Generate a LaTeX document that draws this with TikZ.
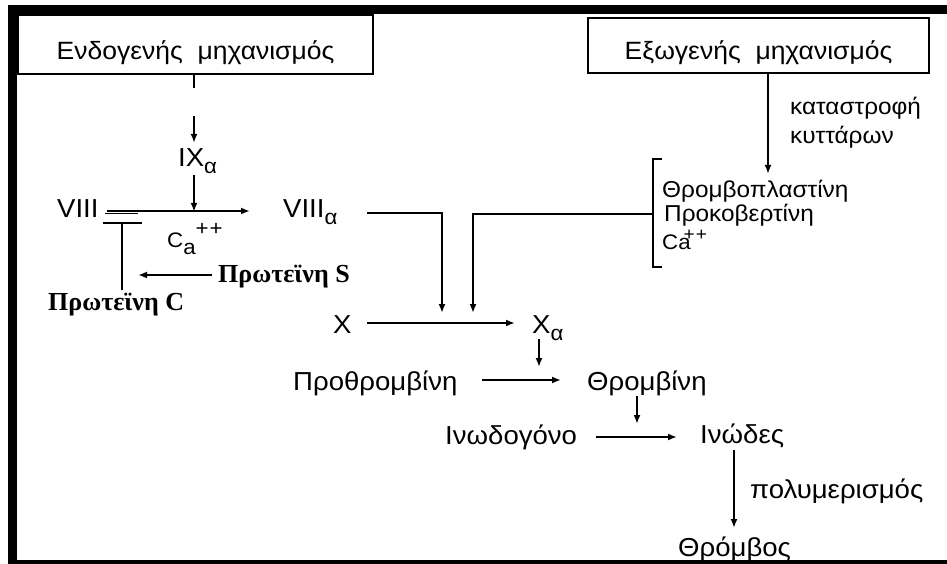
\documentclass[tikz,border=0pt]{standalone}
\usepackage{fontspec}
\setmainfont{Liberation Sans}[FakeStretch=1.06]
\newfontfamily\protfont{Liberation Serif}
\usetikzlibrary{arrows.meta,calc}

% lowered and raised indices in the chemistry labels
\newcommand\lowidx[1]{\raisebox{-7pt}{\fontsize{21}{21}\selectfont #1}}
\newcommand\plusplus[1][21]{\fontsize{#1}{#1}\selectfont +\kern1pt+}

\begin{document}
\begin{tikzpicture}[x=1pt,y=-1pt,
  every node/.style={inner sep=0pt},
  lbl/.style={anchor=base west,font=\fontsize{26}{28}\selectfont},
  small/.style={anchor=base west,font=\fontsize{23}{26}\selectfont},
  prot/.style={anchor=base west,font=\protfont\bfseries\fontsize{26}{28}\selectfont},
  box/.style={draw,line width=1.8pt,inner xsep=0pt,inner ysep=0pt,
              font=\fontsize{25}{28}\selectfont},
  line/.style={line width=1.8pt},
  arr/.style={line width=1.8pt,-{Latex[length=9pt,width=7pt]}}]
\useasboundingbox (0,0) rectangle (947,564);

% outer frame: heavy top and left bands, thin bottom rule
\fill (8,5) rectangle (947,14);
\fill (8,5) rectangle (17,564);
\fill (8,560) rectangle (947,564);

% the two pathway headers
\node[box,minimum width=355pt,text height=45pt,text depth=14pt]
  (endo) at (195.5,44.5) {Ενδογενής\ \ μηχανισμός};
\node[box,minimum width=341pt,text height=42pt,text depth=13pt]
  (exo) at (758.5,45.5) {Εξωγενής\ \ μηχανισμός};

% intrinsic branch
\node[lbl] (IX) at (178,167) {IX\lowidx{α}};
\node[lbl] (VIII) at (57,217) {VIII};
\node[lbl] (VIIIa) at (283,217) {VIII\lowidx{α}};
\node[anchor=base west,font=\fontsize{21}{24}\selectfont] (Ca) at (167,247)
  {C\lowidx{a}\raisebox{12pt}{\plusplus}};
\node[prot] (protS) at (218,282) {Πρωτεϊνη S};
\node[prot] (protC) at (48,310) {Πρωτεϊνη C};

% extrinsic branch
\node[small] (dmg1) at (790,115) {καταστροφή};
\node[small] (dmg2) at (790,144) {κυττάρων};
\node[small] (tpl) at (662,197) {Θρομβοπλαστίνη};
\node[small] (prok) at (664,222) {Προκοβερτίνη};
\node[anchor=base west,font=\fontsize{21}{24}\selectfont] (ca2) at (662,249)
  {Ca\kern-7pt\raisebox{9pt}{\plusplus[18]}};

% common pathway
\node[lbl] (X) at (333,333) {X};
\node[lbl] (Xa) at (532,333) {X\lowidx{α}};
\node[lbl] (prothr) at (293,390) {Προθρομβίνη};
\node[lbl] (thromb) at (587,390) {Θρομβίνη};
\node[lbl] (fibgen) at (445,444) {Ινωδογόνο};
\node[lbl] (fibrin) at (700,443) {Ινώδες};
\node[lbl] (polym) at (750,498) {πολυμερισμός};
\node[lbl] (thrombus) at (678,556) {Θρόμβος};

% junction points on the reaction arrows
\coordinate (j1) at ($(endo.south)+(-1.5,137)$);
\coordinate (k1) at ($(X.base west)+(109,-10)$);
\coordinate (k2) at ($(X.base west)+(140,-10)$);
\coordinate (br) at ($(tpl.base west)+(-9,17)$);

% intrinsic connectors
\draw[line] ($(endo.south)+(-1.5,0)$) -- ++(0,13);
\draw[arr] ($(endo.south)+(-1.5,41)$) -- ++(0,27);
\draw[arr] ($(IX.base west)+(16,8)$) -- (j1);
\draw[arr] ($(VIII.base west)+(50,-6)$) -- ($(VIIIa.base west)+(-33,-6)$);
\draw[line,line width=1.4pt] ($(VIII.base west)+(48,-3.5)$) -- ++(33,0);
\draw[line] ($(protC.base west)+(74,-20)$) coordinate (stem) -- ++(0,-67) coordinate (tb);
\draw[line,line width=2.2pt] ($(tb)+(-19,0)$) -- ++(39,0);
\draw[arr] ($(protS.base west)+(-6,-7)$) -- ($(tb |- protS.base)+(16,-7)$);

% extrinsic connectors
\draw[arr] ($(exo.south)+(9.5,0)$) -- ++(0,100);
\draw[line] ($(br)+(9,-55)$) -- ++(-9,0) -- ($(br)+(0,53)$) -- ++(9,0);

% into factor X activation
\draw[arr,shorten >=10pt] ($(VIIIa.base west)+(84,-4)$) -| (k1);
\draw[arr,shorten >=10pt] (br) -| (k2);
\draw[arr] ($(X.base west)+(34,-10)$) -- ($(Xa.base west)+(-17,-10)$);

% common pathway connectors
\draw[arr] ($(Xa.base west)+(7,6)$) -- ++(0,28);
\draw[arr] ($(thromb.base west)+(-105,-10)$) -- ($(thromb.base west)+(-26,-10)$);
\draw[arr] ($(thromb.base west)+(50,6)$) -- ++(0,28);
\draw[arr] ($(fibrin.base west)+(-104,-6)$) -- ($(fibrin.base west)+(-23,-6)$);
\draw[arr] ($(fibrin.base west)+(34,7)$) -- ++(0,78);
\end{tikzpicture}
\end{document}
